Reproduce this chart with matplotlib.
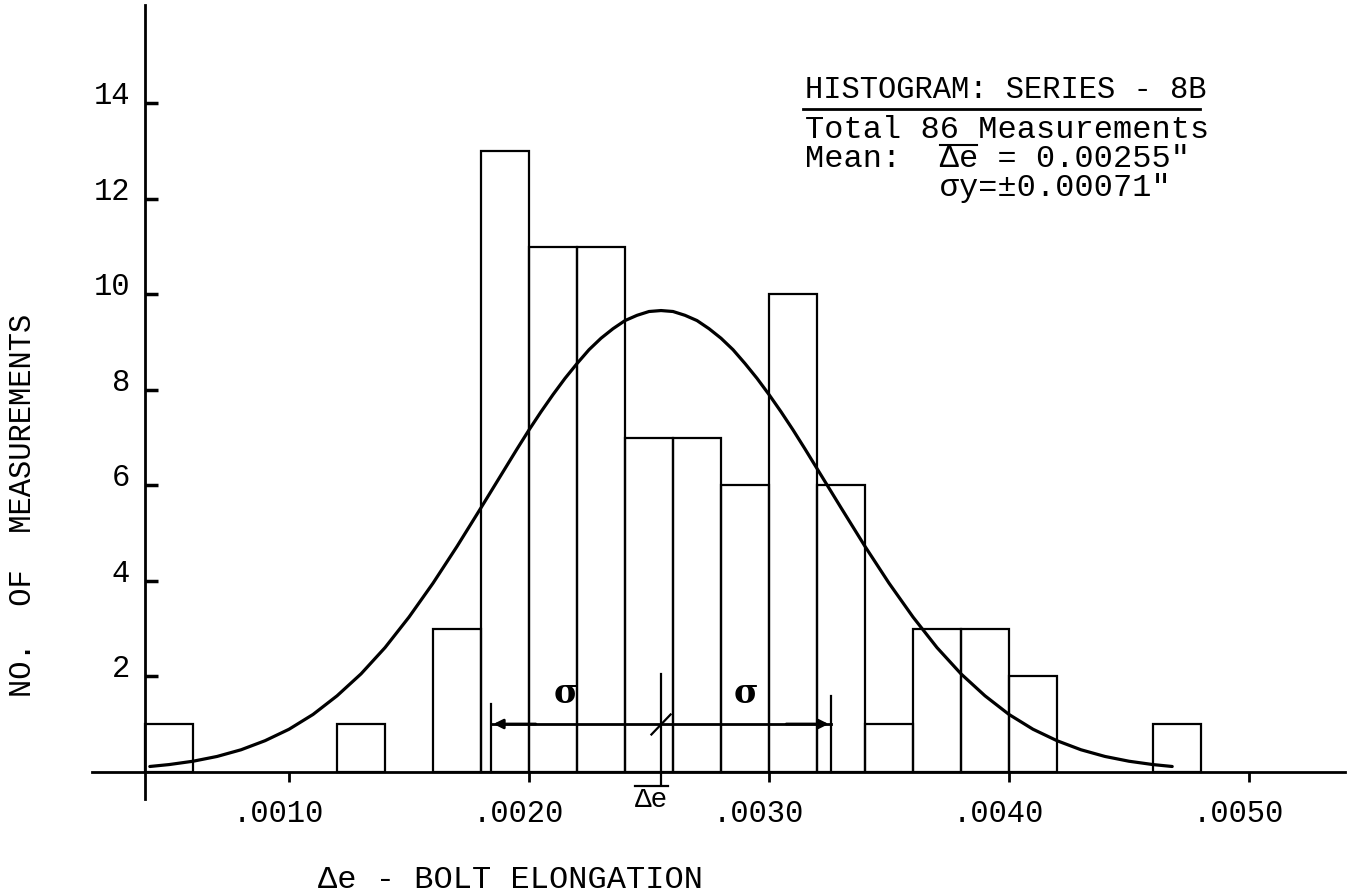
import matplotlib
matplotlib.use("Agg")
import matplotlib.pyplot as plt
from matplotlib.transforms import ScaledTranslation
from matplotlib.lines import Line2D

plt.rcParams['font.family'] = ['Liberation Mono', 'DejaVu Sans Mono', 'DejaVu Sans']

# ---------------- data ----------------
bin_left = [0.0004, 0.0012, 0.0016, 0.0018, 0.0020, 0.0022, 0.0024, 0.0026,
            0.0028, 0.0030, 0.0032, 0.0034, 0.0036, 0.0038, 0.0040, 0.0046]
counts = [1, 1, 3, 13, 11, 11, 7, 7, 6, 10, 6, 1, 3, 3, 2, 1]
bin_width = 0.0002

# smooth (normal) curve
curve_x = [0.00042, 0.0005, 0.0006, 0.0007, 0.0008, 0.0009, 0.0010, 0.0011,
           0.0012, 0.0013, 0.0014, 0.0015, 0.0016, 0.0017, 0.0018, 0.00185,
           0.0019, 0.00195, 0.0020, 0.00205, 0.0021, 0.00215, 0.0022, 0.00225,
           0.0023, 0.00235, 0.0024, 0.00245, 0.0025, 0.00255, 0.0026, 0.00265,
           0.0027, 0.00275, 0.0028, 0.00285, 0.0029, 0.00295, 0.0030, 0.00305,
           0.0031, 0.00315, 0.0032, 0.00325, 0.0033, 0.0034, 0.0035,
           0.0036, 0.0037, 0.0038, 0.0039, 0.0040, 0.0041, 0.0042, 0.0043,
           0.0044, 0.0045, 0.0046, 0.00468]
curve_y = [0.11, 0.15, 0.22, 0.32, 0.46, 0.65, 0.89, 1.20,
           1.59, 2.05, 2.60, 3.24, 3.95, 4.72, 5.53, 5.94,
           6.35, 6.76, 7.16, 7.54, 7.90, 8.24, 8.55, 8.84,
           9.08, 9.28, 9.45, 9.56, 9.64, 9.66, 9.64, 9.56,
           9.45, 9.28, 9.08, 8.84, 8.55, 8.24, 7.90, 7.54,
           7.16, 6.76, 6.35, 5.94, 5.53, 4.72, 3.95,
           3.24, 2.60, 2.05, 1.59, 1.20, 0.89, 0.65, 0.46,
           0.32, 0.22, 0.15, 0.11]

mean_e = 0.00255
sigma = 0.00071
n_total = 86

x_ticks = [0.0010, 0.0020, 0.0030, 0.0040, 0.0050]
x_ticklabels = ['.0010', '.0020', '.0030', '.0040', '.0050']
y_ticks = [2, 4, 6, 8, 10, 12, 14]

# ---------------- figure ----------------
fig = plt.figure(figsize=(13.49, 8.95), dpi=100)
ax = fig.add_axes([92/1349, 95/895, 1253/1349, 794/895])
ax.set_xlim(0.000179, 0.0054)
ax.set_ylim(-0.571, 16.06)

ax.bar(bin_left, counts, width=bin_width, align='edge', fill=False,
       edgecolor='black', linewidth=1.6)
ax.plot(curve_x, curve_y, color='black', lw=2.3, solid_capstyle='round',
        solid_joinstyle='round')

# axes drawn as crossing lines
for s in ['top', 'right']:
    ax.spines[s].set_visible(False)
ax.spines['left'].set_position(('data', 0.0004))
ax.spines['bottom'].set_position(('data', 0))
ax.spines['left'].set_linewidth(2)
ax.spines['bottom'].set_linewidth(2)

ax.set_xticks(x_ticks)
ax.set_xticklabels(x_ticklabels)
ax.set_yticks(y_ticks)
ax.tick_params(axis='x', direction='out', length=7, width=2, pad=12, labelsize=22)
ax.tick_params(axis='y', direction='in', length=9, width=2.5, pad=11, labelsize=22)
shift = ScaledTranslation(-11/100, 0, fig.dpi_scale_trans)
for lab in ax.get_xticklabels():
    lab.set_transform(lab.get_transform() + shift)
for lab in ax.get_yticklabels():
    lab.set_verticalalignment('baseline')

# sigma markers around the mean
lo, hi = mean_e - sigma, mean_e + sigma
ax.plot([lo, lo], [0, 1.42], color='black', lw=1.6)
ax.plot([hi, hi], [0, 1.58], color='black', lw=1.6)
ax.plot([lo, hi], [1, 1], color='black', lw=2)
ax.annotate('', xy=(lo, 1), xytext=(lo + 0.0002, 1),
            arrowprops=dict(arrowstyle='-|>', lw=2, color='black', mutation_scale=14))
ax.annotate('', xy=(hi, 1), xytext=(hi - 0.0002, 1),
            arrowprops=dict(arrowstyle='-|>', lw=2, color='black', mutation_scale=14))
ax.plot([mean_e, mean_e], [-0.25, 2.05], color='black', lw=1.6, clip_on=False)
ax.plot([mean_e - 0.00004, mean_e + 0.00004], [0.78, 1.2], color='black', lw=1.6)
ax.text((lo + mean_e) / 2 - 0.00004, 1.65, 'σ', fontsize=24, fontweight='bold',
        ha='center', va='center', family=['DejaVu Serif'])
ax.text((hi + mean_e) / 2, 1.65, 'σ', fontsize=24, fontweight='bold',
        ha='center', va='center', family=['DejaVu Serif'])

# mean label under the axis, with its bar
mx = mean_e - 0.00004
ax.text(mx, -0.58, 'Δe', fontsize=20, ha='center', va='center', clip_on=False)
ax.plot([mx - 0.00007, mx + 0.00007], [-0.3, -0.3], color='black', lw=1.6,
        clip_on=False)

# axis titles
fig.text(23/1349, 1 - 505/895, 'NO.  OF  MEASUREMENTS', rotation=90,
         fontsize=22, ha='center', va='center')
fig.text(318/1349, 1 - 880/895, 'Δe - BOLT ELONGATION', fontsize=23,
         ha='left', va='center')

# legend block
fig.text(805/1349, 1 - 90/895, 'HISTOGRAM: SERIES - 8B', fontsize=22,
         ha='left', va='center')
fig.add_artist(Line2D([803/1349, 1200/1349], [1 - 110/895, 1 - 110/895],
                      color='black', lw=2))
info = ('Total %d Measurements\n' % n_total +
        'Mean:  Δe = %.5f"\n' % mean_e +
        '       σy=±%.5f"' % sigma)
fig.text(805/1349, 1 - 115/895, info, fontsize=23, ha='left', va='top',
         linespacing=0.95)
# bar over the Δe in the mean line
fig.add_artist(Line2D([940/1349, 977/1349], [1 - 145.5/895, 1 - 145.5/895],
                      color='black', lw=1.5))

fig.savefig('out.png', dpi=100)
